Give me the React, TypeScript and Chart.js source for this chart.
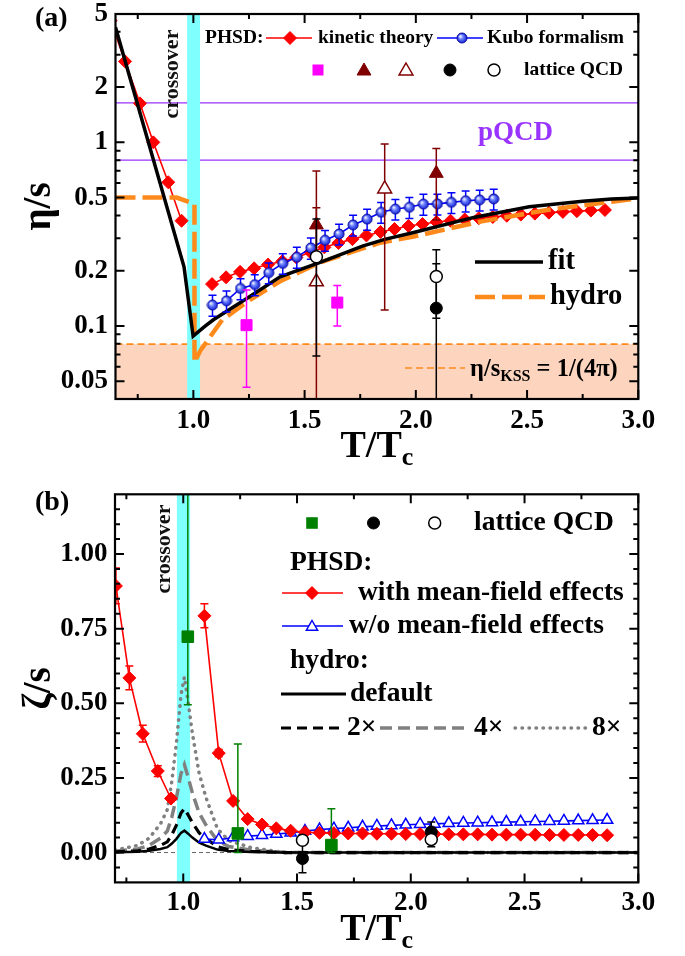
import { useEffect, useRef } from "react";
import { Chart, registerables } from "chart.js";

Chart.register(...registerables);

const SERIF = '"Liberation Serif", "Times New Roman", Times, serif';

/* ---------- panel (a): shear viscosity to entropy ratio ---------- */
const etaTRange = [0.65, 3.0];
const etaRange = [0.04, 5];
const crossoverT = [0.972, 1.03];

const kinLowT = [0.628, 0.693, 0.76, 0.82, 0.887, 0.947];
const kinLowEta = [4.6, 2.76, 1.63, 1.0, 0.606, 0.374];

const kinHighT = [1.084, 1.147, 1.21, 1.273, 1.336, 1.4, 1.463, 1.526, 1.589, 1.652, 1.715, 1.778, 1.841, 1.904, 1.967, 2.03, 2.093, 2.156, 2.22, 2.283, 2.346, 2.409, 2.472, 2.535, 2.598, 2.661, 2.724, 2.787, 2.85];
const kinHighEta = [0.169, 0.184, 0.197, 0.206, 0.216, 0.225, 0.236, 0.252, 0.268, 0.283, 0.297, 0.311, 0.325, 0.337, 0.35, 0.359, 0.368, 0.374, 0.38, 0.386, 0.392, 0.398, 0.404, 0.409, 0.414, 0.418, 0.422, 0.425, 0.428];

const kuboT = [1.086, 1.149, 1.212, 1.276, 1.339, 1.402, 1.465, 1.528, 1.592, 1.655, 1.718, 1.781, 1.844, 1.908, 1.971, 2.034, 2.097, 2.16, 2.224, 2.287, 2.35];
const kuboEta = [0.13, 0.137, 0.16, 0.168, 0.195, 0.219, 0.237, 0.266, 0.293, 0.317, 0.355, 0.382, 0.416, 0.433, 0.443, 0.461, 0.462, 0.471, 0.481, 0.486, 0.492];
const kuboErr = [0.017, 0.018, 0.021, 0.022, 0.025, 0.028, 0.031, 0.035, 0.038, 0.041, 0.046, 0.05, 0.054, 0.056, 0.058, 0.06, 0.06, 0.061, 0.063, 0.063, 0.064];

const fitT = [0.65, 0.958, 0.999, 1.05, 1.09, 1.24, 1.39, 1.46, 1.57, 1.76, 1.86, 1.99, 2.26, 2.51, 2.75, 2.88, 3.0];
const fitEta = [4.23, 0.21, 0.088, 0.099, 0.108, 0.141, 0.185, 0.199, 0.222, 0.272, 0.296, 0.323, 0.39, 0.446, 0.478, 0.492, 0.497];

const hydroT = [0.65, 0.925, 1.005, 1.005, 1.03, 1.13, 1.24, 1.39, 1.57, 1.84, 1.99, 2.29, 2.59, 2.88, 3.0];
const hydroEta = [0.5, 0.5, 0.462, 0.063, 0.073, 0.108, 0.135, 0.175, 0.222, 0.284, 0.307, 0.37, 0.428, 0.475, 0.496];

const pqcdEta = [1.64, 0.8];
const kssEta = 1 / (4 * Math.PI);

// lattice QCD points with lower / upper error limits
const latSqT = [1.239, 1.647];
const latSqEta = [0.101, 0.134];
const latSqLo = [0.0463, 0.1];
const latSqHi = [0.157, 0.166];

const latTriT = [1.553, 2.092];
const latTriEta = [0.355, 0.678];
const latTriLo = [0.245, 0.378];
const latTriHi = [0.44, 0.927];

const latOpenTriT = [1.553, 1.86];
const latOpenTriEta = [0.174, 0.557];
const latOpenTriLo = [0.02, 0.122];
const latOpenTriHi = [0.698, 0.979];

const latDotT = [2.092];
const latDotEta = [0.125];
const latDotLo = [0.11];
const latDotHi = [0.218];

const latRingT = [1.553, 2.092];
const latRingEta = [0.238, 0.186];
const latRingLo = [0.0686, 0.02];
const latRingHi = [0.382, 0.26];

/* ---------- panel (b): bulk viscosity to entropy ratio ---------- */
const zetaTRange = [0.7, 3.0];
const zetaRange = [-0.1, 1.2];

const mfLowT = [0.704, 0.763, 0.822, 0.888, 0.946];
const mfLowZeta = [0.893, 0.585, 0.398, 0.273, 0.181];
const mfLowErr = [0.06, 0.04, 0.028, 0.018, 0.01];

const phsdHighT = [1.093, 1.156, 1.219, 1.283, 1.346, 1.409, 1.472, 1.535, 1.599, 1.662, 1.725, 1.788, 1.851, 1.915, 1.978, 2.041, 2.104, 2.167, 2.231, 2.294, 2.357, 2.42, 2.483, 2.547, 2.61, 2.673, 2.736, 2.799, 2.863];
const mfHighZeta = [0.793, 0.333, 0.173, 0.112, 0.094, 0.081, 0.073, 0.068, 0.066, 0.065, 0.064, 0.064, 0.063, 0.063, 0.062, 0.062, 0.062, 0.061, 0.061, 0.061, 0.06, 0.06, 0.06, 0.06, 0.059, 0.059, 0.059, 0.059, 0.058];
const mfHighErr = [0.04, 0.012, 0.006, 0.004, 0.003, 0.003, 0.003, 0.003, 0.003, 0.003, 0.003, 0.003, 0.003, 0.003, 0.003, 0.003, 0.003, 0.003, 0.003, 0.003, 0.003, 0.003, 0.003, 0.003, 0.003, 0.003, 0.003, 0.003, 0.003];
const noMfZeta = [0.045, 0.043, 0.05, 0.055, 0.058, 0.062, 0.066, 0.072, 0.077, 0.08, 0.083, 0.086, 0.089, 0.091, 0.093, 0.095, 0.096, 0.098, 0.099, 0.1, 0.101, 0.102, 0.103, 0.104, 0.105, 0.106, 0.107, 0.108, 0.109];

const hydroZT = [0.7, 0.8, 0.85, 0.9, 0.93, 0.95, 0.97, 0.99, 1.005, 1.02, 1.04, 1.07, 1.1, 1.15, 1.2, 1.3, 1.45, 3.0];
const hydroZeta = [0.001, 0.003, 0.006, 0.012, 0.018, 0.03, 0.046, 0.066, 0.0735, 0.064, 0.05, 0.033, 0.023, 0.01, 0.005, 0.002, 0, 0];
const hydroFactors = [1, 2, 4, 8];

const zSqT = [1.02, 1.24, 1.651];
const zSq = [0.723, 0.064, 0.025];
const zSqLo = [0.495, 0.0, 0.0];
const zSqHi = [1.3, 0.364, 0.147];

const zDotT = [1.524, 2.09];
const zDot = [-0.02, 0.069];
const zDotLo = [-0.068, 0.019];
const zDotHi = [0.028, 0.1025];

const zRingT = [1.524, 2.09];
const zRing = [0.041, 0.044];

/* ---------- axis ticks ---------- */
const tMajor = [1.0, 1.5, 2.0, 2.5, 3.0];
const tMinor = [0.75, 1.25, 1.75, 2.25, 2.75];
const etaMajor = [0.05, 0.1, 0.2, 0.5, 1, 2, 5];
const etaMinor = [0.06, 0.07, 0.08, 0.09, 0.3, 0.4, 0.6, 0.7, 0.8, 0.9, 3, 4];
const zetaMajor = [0, 0.25, 0.5, 0.75, 1.0];
const zetaMinor = [-0.05, 0.05, 0.1, 0.15, 0.2, 0.3, 0.35, 0.4, 0.45, 0.55, 0.6, 0.65, 0.7, 0.8, 0.85, 0.9, 0.95, 1.05, 1.1, 1.15];

/* ---------- colours ---------- */
const RED = "#ff0000";
const BLUE = "#0000ff";
const MAGENTA = "#ff00ff";
const MAROON = "#800000";
const ORANGE = "#ff8a1c";
const PURPLE = "#9933ff";
const CYAN = "#80ffff";
const PEACH = "#fdd5bf";
const GREEN = "#008000";
const GRAY = "#808080";

const xy = (xs: number[], ys: number[]) => xs.map((x, i) => ({ x, y: ys[i] }));
const minus = (ys: number[], e: number[]) => ys.map((v, i) => v - e[i]);
const plus = (ys: number[], e: number[]) => ys.map((v, i) => v + e[i]);

function ballImage(r: number) {
  const c = document.createElement("canvas");
  const s = Math.ceil(2 * r + 2);
  c.width = s;
  c.height = s;
  const g = c.getContext("2d")!;
  const cx = s / 2;
  const cy = s / 2;
  const grad = g.createRadialGradient(cx - r * 0.35, cy - r * 0.35, r * 0.1, cx, cy, r);
  grad.addColorStop(0, "#eef0ff");
  grad.addColorStop(0.4, "#6b80ff");
  grad.addColorStop(1, "#1020d0");
  g.beginPath();
  g.arc(cx, cy, r, 0, Math.PI * 2);
  g.fillStyle = grad;
  g.fill();
  g.lineWidth = 1;
  g.strokeStyle = "#0a0aa0";
  g.stroke();
  return c;
}

function mark(ctx: any, shape: string, x: number, y: number, r: number, fill: string | null, stroke: string | null, lw = 1.5) {
  ctx.beginPath();
  if (shape === "diamond") {
    ctx.moveTo(x, y - r);
    ctx.lineTo(x + r, y);
    ctx.lineTo(x, y + r);
    ctx.lineTo(x - r, y);
    ctx.closePath();
  } else if (shape === "circle") {
    ctx.arc(x, y, r, 0, Math.PI * 2);
  } else if (shape === "square") {
    ctx.rect(x - r, y - r, 2 * r, 2 * r);
  } else if (shape === "triangle") {
    ctx.moveTo(x, y - r);
    ctx.lineTo(x + r * 0.866, y + r / 2);
    ctx.lineTo(x - r * 0.866, y + r / 2);
    ctx.closePath();
  }
  if (fill) {
    ctx.fillStyle = fill;
    ctx.fill();
  }
  if (stroke) {
    ctx.strokeStyle = stroke;
    ctx.lineWidth = lw;
    ctx.stroke();
  }
}

function seg(ctx: any, x0: number, y0: number, x1: number, y1: number, color: string, lw: number, dash: number[] = [], cap = "butt") {
  ctx.save();
  ctx.beginPath();
  ctx.strokeStyle = color;
  ctx.lineWidth = lw;
  ctx.setLineDash(dash);
  ctx.lineCap = cap;
  ctx.moveTo(x0, y0);
  ctx.lineTo(x1, y1);
  ctx.stroke();
  ctx.restore();
}

function text(ctx: any, s: string, x: number, y: number, size: number, color = "#000", align = "left", baseline = "middle") {
  ctx.font = `bold ${size}px ${SERIF}`;
  ctx.fillStyle = color;
  ctx.textAlign = align;
  ctx.textBaseline = baseline;
  ctx.fillText(s, x, y);
}

// text runs on a shared baseline: [string, size, vertical shift]
function runs(ctx: any, parts: [string, number, number][], x: number, y: number, centred: boolean) {
  ctx.textBaseline = "alphabetic";
  ctx.textAlign = "left";
  ctx.fillStyle = "#000";
  let total = 0;
  parts.forEach(([s, size]) => {
    ctx.font = `bold ${size}px ${SERIF}`;
    total += ctx.measureText(s).width;
  });
  let cx = centred ? x - total / 2 : x;
  parts.forEach(([s, size, dy]) => {
    ctx.font = `bold ${size}px ${SERIF}`;
    ctx.fillText(s, cx, y + dy);
    cx += ctx.measureText(s).width;
  });
}

function rotatedText(ctx: any, s: string, x: number, y: number, size: number, color = "#000") {
  ctx.save();
  ctx.translate(x, y);
  ctx.rotate(-Math.PI / 2);
  text(ctx, s, 0, 0, size, color, "center", "middle");
  ctx.restore();
}

function drawFrame(chart: any, xMaj: number[], xMin: number[], yMaj: number[], yMin: number[]) {
  const { ctx, chartArea: a, scales } = chart;
  ctx.save();
  ctx.strokeStyle = "#000";
  ctx.lineWidth = 2;
  ctx.beginPath();
  const xt = (vals: number[], len: number) =>
    vals.forEach((v) => {
      const px = scales.x.getPixelForValue(v);
      ctx.moveTo(px, a.bottom);
      ctx.lineTo(px, a.bottom - len);
      ctx.moveTo(px, a.top);
      ctx.lineTo(px, a.top + len);
    });
  const yt = (vals: number[], len: number) =>
    vals.forEach((v) => {
      const py = scales.y.getPixelForValue(v);
      ctx.moveTo(a.left, py);
      ctx.lineTo(a.left + len, py);
      ctx.moveTo(a.right, py);
      ctx.lineTo(a.right - len, py);
    });
  xt(xMaj, 9);
  xt(xMin, 5);
  yt(yMaj, 9);
  yt(yMin, 5);
  ctx.stroke();
  ctx.lineWidth = 2.2;
  ctx.strokeRect(a.left, a.top, a.right - a.left, a.bottom - a.top);
  ctx.restore();
}

const errorBars = {
  id: "errorBars",
  beforeDatasetDraw(chart: any, args: any) {
    const ds = chart.data.datasets[args.index];
    if (!ds.errLo) return;
    const { ctx, chartArea: a } = chart;
    const xs = chart.scales.x;
    const ys = chart.scales.y;
    const cap = ds.capHalf ?? 4;
    ctx.save();
    ctx.beginPath();
    ctx.rect(a.left, a.top, a.right - a.left, a.bottom - a.top);
    ctx.clip();
    ctx.strokeStyle = ds.errColor ?? ds.borderColor;
    ctx.lineWidth = ds.errWidth ?? 1.5;
    ds.data.forEach((p: any, i: number) => {
      const px = xs.getPixelForValue(p.x);
      const lo = ys.getPixelForValue(ds.errLo[i]);
      const hi = ys.getPixelForValue(ds.errHi[i]);
      ctx.beginPath();
      ctx.moveTo(px, lo);
      ctx.lineTo(px, hi);
      ctx.moveTo(px - cap, lo);
      ctx.lineTo(px + cap, lo);
      ctx.moveTo(px - cap, hi);
      ctx.lineTo(px + cap, hi);
      ctx.stroke();
    });
    ctx.restore();
  },
};

const tickFont = { family: SERIF, size: 27, weight: "bold" };

function baseOptions(p: any) {
  return {
    responsive: false,
    maintainAspectRatio: false,
    animation: false,
    devicePixelRatio: 1,
    events: [],
    layout: { padding: { left: 0, top: p.top, right: 685 - p.right, bottom: 0 } },
    plugins: { legend: { display: false }, tooltip: { enabled: false } },
    scales: {
      x: {
        type: "linear",
        position: "bottom",
        min: p.xMin,
        max: p.xMax,
        grid: { display: false, drawTicks: false },
        border: { display: false },
        ticks: { color: "#000", font: tickFont, padding: p.xPad, autoSkip: false, maxRotation: 0, minRotation: 0, callback: (v: any) => Number(v).toFixed(1) },
        afterBuildTicks: (s: any) => {
          s.ticks = tMajor.map((v) => ({ value: v }));
        },
        afterFit: (s: any) => {
          s.height = p.h - p.bottom;
          s.paddingLeft = 0;
          s.paddingRight = 0;
        },
      },
      y: {
        type: p.yType,
        position: "left",
        min: p.yMin,
        max: p.yMax,
        grid: { display: false, drawTicks: false },
        border: { display: false },
        ticks: { color: "#000", font: tickFont, padding: 7.5, autoSkip: false, callback: p.yFmt },
        afterBuildTicks: (s: any) => {
          s.ticks = p.yTicks.map((v: number) => ({ value: v }));
        },
        afterFit: (s: any) => {
          s.width = p.left;
          s.paddingTop = 0;
          s.paddingBottom = 0;
        },
      },
    },
  };
}

/* ---------- panel (a) decorations ---------- */
function makeDecorA(ball: HTMLCanvasElement) {
  return {
    id: "decorA",
    beforeDatasetsDraw(chart: any) {
      const { ctx, chartArea: a, scales } = chart;
      const { x, y } = scales;
      ctx.save();
      ctx.beginPath();
      ctx.rect(a.left, a.top, a.right - a.left, a.bottom - a.top);
      ctx.clip();
      const yk = y.getPixelForValue(kssEta);
      ctx.fillStyle = PEACH;
      ctx.fillRect(a.left, yk, a.right - a.left, a.bottom - yk);
      seg(ctx, a.left, yk, a.right, yk, ORANGE, 1.6, [7, 4]);
      pqcdEta.forEach((v) => {
        const py = y.getPixelForValue(v);
        seg(ctx, a.left, py, a.right, py, PURPLE, 1.3);
      });
      const x0 = x.getPixelForValue(crossoverT[0]);
      const x1 = x.getPixelForValue(crossoverT[1]);
      ctx.fillStyle = CYAN;
      ctx.fillRect(x0, a.top, x1 - x0, a.bottom - a.top);
      ctx.restore();
    },
    afterDraw(chart: any) {
      const { ctx, chartArea: a } = chart;
      drawFrame(chart, tMajor, tMinor, etaMajor, etaMinor);

      text(ctx, "(a)", 35, 26, 28, "#000", "left", "alphabetic");
      rotatedText(ctx, "crossover", 172.3, 74, 22, "#111");
      text(ctx, "pQCD", 478, 140, 27, PURPLE, "left", "alphabetic");

      // legend: PHSD results
      text(ctx, "PHSD:", 205, 38, 19.5);
      seg(ctx, 266, 38, 312, 38, RED, 1.6);
      mark(ctx, "diamond", 290, 38, 6.5, RED, RED, 1);
      text(ctx, "kinetic theory", 318, 38, 19.5);
      seg(ctx, 437, 38, 483, 38, BLUE, 1.6);
      ctx.drawImage(ball, 462 - ball.width / 2, 38 - ball.height / 2);
      text(ctx, "Kubo formalism", 487, 38, 19.5);

      // legend: lattice QCD symbols
      mark(ctx, "square", 318, 70, 5.5, MAGENTA, null);
      mark(ctx, "triangle", 364, 71, 8, MAROON, MAROON, 1);
      mark(ctx, "triangle", 406, 71, 8, "#fff", MAROON, 1.5);
      mark(ctx, "circle", 450, 70, 6, "#000", "#000", 1);
      mark(ctx, "circle", 494, 70, 6, "#fff", "#000", 1.5);
      text(ctx, "lattice QCD", 524, 70, 19.5);

      // legend: fit and hydro curves
      seg(ctx, 475, 262, 543, 262, "#000", 3.5);
      text(ctx, "fit", 548, 262, 28.5);
      seg(ctx, 475, 297, 545, 297, ORANGE, 4.5, [20, 7]);
      text(ctx, "hydro", 550, 297, 28.5);

      seg(ctx, 405, 368, 465, 368, ORANGE, 1.6, [7, 4]);
      runs(ctx, [["η/s", 24.5, 0], ["KSS", 16, 5], [" = 1/(4π)", 24.5, 0]], 470, 376, false);

      // axis titles
      rotatedText(ctx, "η/s", 40, (a.top + a.bottom) / 2, 39);
      runs(ctx, [["T/T", 38, 0], ["c", 26, 8]], (a.left + a.right) / 2, 457, true);
    },
  };
}

/* ---------- panel (b) decorations ---------- */
const decorB = {
  id: "decorB",
  beforeDatasetsDraw(chart: any) {
    const { ctx, chartArea: a, scales } = chart;
    const { x, y } = scales;
    ctx.save();
    ctx.beginPath();
    ctx.rect(a.left, a.top, a.right - a.left, a.bottom - a.top);
    ctx.clip();
    const y0 = y.getPixelForValue(0);
    seg(ctx, a.left, y0, a.right, y0, "#666", 1, [4, 3]);
    const x0 = x.getPixelForValue(crossoverT[0]);
    const x1 = x.getPixelForValue(crossoverT[1]);
    ctx.fillStyle = CYAN;
    ctx.fillRect(x0, a.top, x1 - x0, a.bottom - a.top);
    ctx.restore();
  },
  afterDraw(chart: any) {
    const { ctx, chartArea: a } = chart;
    drawFrame(chart, tMajor, tMinor, zetaMajor, zetaMinor);

    text(ctx, "(b)", 35, 40, 28, "#000", "left", "alphabetic");
    rotatedText(ctx, "crossover", 164.5, 79, 22, "#111");

    // legend: lattice QCD
    mark(ctx, "square", 312, 53, 5.8, GREEN, null);
    mark(ctx, "circle", 373.5, 53, 6, "#000", "#000", 1);
    mark(ctx, "circle", 434.7, 53, 6, "#fff", "#000", 1.5);
    text(ctx, "lattice QCD", 474, 53, 27.5);

    // legend: PHSD
    text(ctx, "PHSD:", 290, 93, 27.5);
    seg(ctx, 282, 123, 343, 123, RED, 1.6);
    mark(ctx, "diamond", 312, 123, 6.5, RED, RED, 1);
    text(ctx, "with mean-field effects", 358, 123, 27.5);
    seg(ctx, 282, 156, 343, 156, BLUE, 1.6);
    mark(ctx, "triangle", 312, 157, 6.5, "#fff", BLUE, 1.5);
    text(ctx, "w/o mean-field effects", 349, 156, 27.5);

    // legend: hydro
    text(ctx, "hydro:", 290, 191, 27.5);
    seg(ctx, 281, 224, 346, 224, "#000", 3);
    text(ctx, "default", 350, 224, 27.5);
    seg(ctx, 281, 258, 345, 258, "#000", 3.2, [10, 6]);
    text(ctx, "2×", 347, 258, 27.5);
    seg(ctx, 380, 258, 470, 258, GRAY, 3.5, [12, 6]);
    text(ctx, "4×", 474, 258, 27.5);
    seg(ctx, 515, 258, 590, 258, GRAY, 3.5, [0.5, 6.5], "round");
    text(ctx, "8×", 592, 258, 27.5);

    rotatedText(ctx, "ζ/s", 40, (a.top + a.bottom) / 2, 39);
    runs(ctx, [["T/T", 38, 0], ["c", 26, 8]], (a.left + a.right) / 2, 470, true);
  },
};

function configA(ball: HTMLCanvasElement): any {
  const lineOnly = { showLine: true, pointRadius: 0 };
  return {
    type: "scatter",
    data: {
      datasets: [
        { data: xy(latRingT, latRingEta), errLo: latRingLo, errHi: latRingHi, errColor: "#000", pointStyle: "circle", pointRadius: 6, pointBackgroundColor: "#fff", pointBorderColor: "#000", pointBorderWidth: 1.5, order: 0 },
        { data: xy(latDotT, latDotEta), errLo: latDotLo, errHi: latDotHi, errColor: "#000", pointStyle: "circle", pointRadius: 6, pointBackgroundColor: "#000", pointBorderColor: "#000", order: 1 },
        { data: xy(latOpenTriT, latOpenTriEta), errLo: latOpenTriLo, errHi: latOpenTriHi, errColor: MAROON, pointStyle: "triangle", pointRadius: 8, pointBackgroundColor: "#fff", pointBorderColor: MAROON, pointBorderWidth: 1.5, order: 2 },
        { data: xy(latTriT, latTriEta), errLo: latTriLo, errHi: latTriHi, errColor: MAROON, pointStyle: "triangle", pointRadius: 8, pointBackgroundColor: MAROON, pointBorderColor: MAROON, order: 3 },
        { data: xy(latSqT, latSqEta), errLo: latSqLo, errHi: latSqHi, errColor: MAGENTA, pointStyle: "rect", pointRadius: 7.8, pointBackgroundColor: MAGENTA, pointBorderColor: MAGENTA, order: 4 },
        { data: xy(kuboT, kuboEta), errLo: minus(kuboEta, kuboErr), errHi: plus(kuboEta, kuboErr), errColor: BLUE, showLine: true, borderColor: BLUE, borderWidth: 1.6, pointStyle: ball, pointRadius: 5, order: 5 },
        { data: xy(fitT, fitEta), ...lineOnly, borderColor: "#000", borderWidth: 3.5, order: 6 },
        { data: xy(hydroT, hydroEta), ...lineOnly, borderColor: ORANGE, borderWidth: 4.5, borderDash: [20, 7], order: 7 },
        { data: xy(kinHighT, kinHighEta), showLine: true, borderColor: RED, borderWidth: 1.6, pointStyle: "rectRot", pointRadius: 6.5, pointBackgroundColor: RED, pointBorderColor: RED, pointBorderWidth: 1, order: 8 },
        { data: xy(kinLowT, kinLowEta), showLine: true, borderColor: RED, borderWidth: 1.6, pointStyle: "rectRot", pointRadius: 6.5, pointBackgroundColor: RED, pointBorderColor: RED, pointBorderWidth: 1, order: 9 },
      ],
    },
    options: baseOptions({
      xMin: etaTRange[0],
      xMax: etaTRange[1],
      yMin: etaRange[0],
      yMax: etaRange[1],
      yType: "logarithmic",
      yTicks: etaMajor,
      yFmt: (v: any) => String(v),
      left: 115.5,
      right: 638.3,
      top: 14,
      bottom: 399,
      h: 470,
      xPad: 6,
    }),
    plugins: [errorBars, makeDecorA(ball)],
  };
}

function configB(): any {
  const hydroStyles = [
    { borderColor: "#000", borderWidth: 2.5, borderDash: [] },
    { borderColor: "#000", borderWidth: 3.2, borderDash: [10, 6] },
    { borderColor: GRAY, borderWidth: 3.5, borderDash: [12, 6] },
    { borderColor: GRAY, borderWidth: 3.5, borderDash: [0.5, 6.5], borderCapStyle: "round" },
  ];
  const hydro = hydroFactors.map((f, k) => ({
    data: xy(hydroZT, hydroZeta.map((v) => v * f)),
    showLine: true,
    pointRadius: 0,
    ...hydroStyles[k],
    order: 6 + k,
  }));
  return {
    type: "scatter",
    data: {
      datasets: [
        { data: xy(zRingT, zRing), pointStyle: "circle", pointRadius: 6, pointBackgroundColor: "#fff", pointBorderColor: "#000", pointBorderWidth: 1.5, order: 0 },
        { data: xy(zDotT, zDot), errLo: zDotLo, errHi: zDotHi, errColor: "#000", pointStyle: "circle", pointRadius: 6, pointBackgroundColor: "#000", pointBorderColor: "#000", order: 1 },
        { data: xy(zSqT, zSq), errLo: zSqLo, errHi: zSqHi, errColor: GREEN, pointStyle: "rect", pointRadius: 8.2, pointBackgroundColor: GREEN, pointBorderColor: GREEN, order: 2 },
        { data: xy(mfLowT, mfLowZeta), errLo: minus(mfLowZeta, mfLowErr), errHi: plus(mfLowZeta, mfLowErr), errColor: RED, showLine: true, borderColor: RED, borderWidth: 1.6, pointStyle: "rectRot", pointRadius: 6.5, pointBackgroundColor: RED, pointBorderColor: RED, pointBorderWidth: 1, order: 3 },
        { data: xy(phsdHighT, mfHighZeta), errLo: minus(mfHighZeta, mfHighErr), errHi: plus(mfHighZeta, mfHighErr), errColor: RED, showLine: true, borderColor: RED, borderWidth: 1.6, pointStyle: "rectRot", pointRadius: 6.5, pointBackgroundColor: RED, pointBorderColor: RED, pointBorderWidth: 1, order: 4 },
        { data: xy(phsdHighT, noMfZeta), showLine: true, borderColor: BLUE, borderWidth: 1.6, pointStyle: "triangle", pointRadius: 6.5, pointBackgroundColor: "#fff", pointBorderColor: BLUE, pointBorderWidth: 1.5, order: 5 },
        ...hydro,
      ],
    },
    options: baseOptions({
      xMin: zetaTRange[0],
      xMax: zetaTRange[1],
      yMin: zetaRange[0],
      yMax: zetaRange[1],
      yType: "linear",
      yTicks: zetaMajor,
      yFmt: (v: any) => Number(v).toFixed(2),
      left: 115,
      right: 638.3,
      top: 24.3,
      bottom: 412.4,
      h: 486,
      xPad: 4,
    }),
    plugins: [errorBars, decorB],
  };
}

export default function App() {
  const refA = useRef<HTMLCanvasElement>(null);
  const refB = useRef<HTMLCanvasElement>(null);

  useEffect(() => {
    const ball = ballImage(5);
    const a = new Chart(refA.current!, configA(ball));
    const b = new Chart(refB.current!, configB());
    return () => {
      a.destroy();
      b.destroy();
    };
  }, []);

  return (
    <div style={{ position: "absolute", left: 0, top: 0, width: 685, height: 956, background: "#fff" }}>
      <canvas ref={refA} width={685} height={470} style={{ position: "absolute", left: 0, top: 0 }} />
      <canvas ref={refB} width={685} height={486} style={{ position: "absolute", left: 0, top: 470 }} />
    </div>
  );
}
